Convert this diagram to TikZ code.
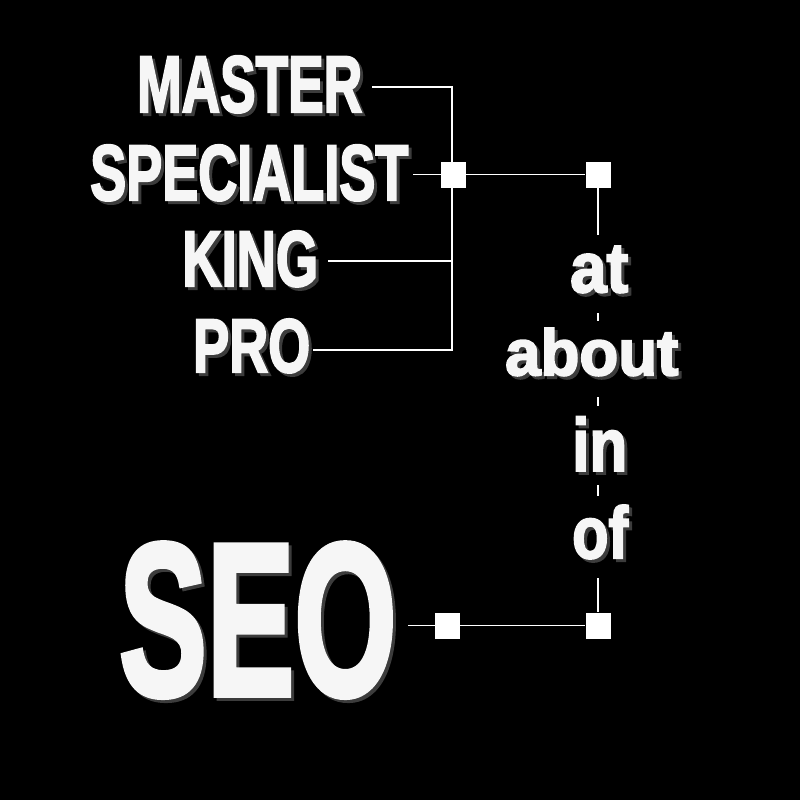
\documentclass[tikz,border=0pt]{standalone}
\usepackage{fontspec}
\usepackage{graphicx}
\newfontfamily\impfont[FakeBold=3]{Liberation Sans Bold}
\definecolor{wtext}{HTML}{F6F6F6}
\definecolor{shadowgray}{HTML}{3C3C3C}
\tikzset{
  word/.style={inner sep=0pt, anchor=south west, text=wtext},
  link/.style={draw=white, line width=1.6pt},
  sq/.style={fill=white, draw=none, minimum width=25pt, minimum height=26pt, inner sep=0pt}
}
\newcommand\placeword[6]{%
  \node[word] (#1) at (#2,#3) {\rlap{\kern3pt\raisebox{-3pt}{\color{shadowgray}\resizebox{#4pt}{#5pt}{\impfont #6}}}\resizebox{#4pt}{#5pt}{\impfont #6}};
}
\begin{document}
\begin{tikzpicture}[x=1pt,y=-1pt]
\fill[black] (0,0) rectangle (800,800);
\useasboundingbox (0,0) rectangle (800,800);
% words
\placeword{master}{137}{116}{225}{56}{MASTER}
\placeword{specialist}{90}{204}{318}{55}{SPECIALIST}
\placeword{king}{182}{290}{136}{55}{KING}
\placeword{pro}{193}{376}{117}{53}{PRO}
\placeword{at}{570}{296}{58}{46}{at}
\placeword{about}{505}{379}{173}{47}{about}
\placeword{in}{572}{474}{55}{54}{in}
\placeword{of}{572}{562}{56}{53}{of}
\placeword{seo}{119}{700}{277}{151}{SEO}
% squares
\node[sq] (sqA) at (453.5,174.5) {};
\node[sq] (sqB) at (598,174.5) {};
\node[sq] (sqC) at (447.5,625.5) {};
\node[sq] (sqD) at (598,625.5) {};
% bracket
\coordinate (bt) at (452,87);
\coordinate (bb) at (452,350);
\coordinate (mE) at (372,87);
\coordinate (kE) at (328,261);
\coordinate (pE) at (313,350);
\coordinate (sE) at (413,174.5);
\coordinate (seoE) at (408,625.5);
\draw[link] (mE) -- (bt) -- (bb) -- (pE);
\draw[link] (kE) -- (kE -| bt);
\draw[link] (sE) -- (sqA) -- (sqB);
% vertical chain
\draw[link, shorten >=11pt] (sqB.south) -- (sqB |- at.north);
\draw[link, shorten <=17pt, shorten >=7pt] (sqB |- at.south) -- (sqB |- about.north);
\draw[link, shorten <=18pt, shorten >=11pt] (sqB |- about.south) -- (sqB |- in.north);
\draw[link, shorten <=11pt, shorten >=9pt] (sqB |- in.south) -- (sqB |- of.north);
\draw[link, shorten <=16pt] (sqB |- of.south) -- (sqD.north);
% bottom
\draw[link] (seoE) -- (sqC) -- (sqD);
\node[sq] at (sqA) {};
\node[sq] at (sqB) {};
\node[sq] at (sqC) {};
\node[sq] at (sqD) {};
\end{tikzpicture}
\end{document}
